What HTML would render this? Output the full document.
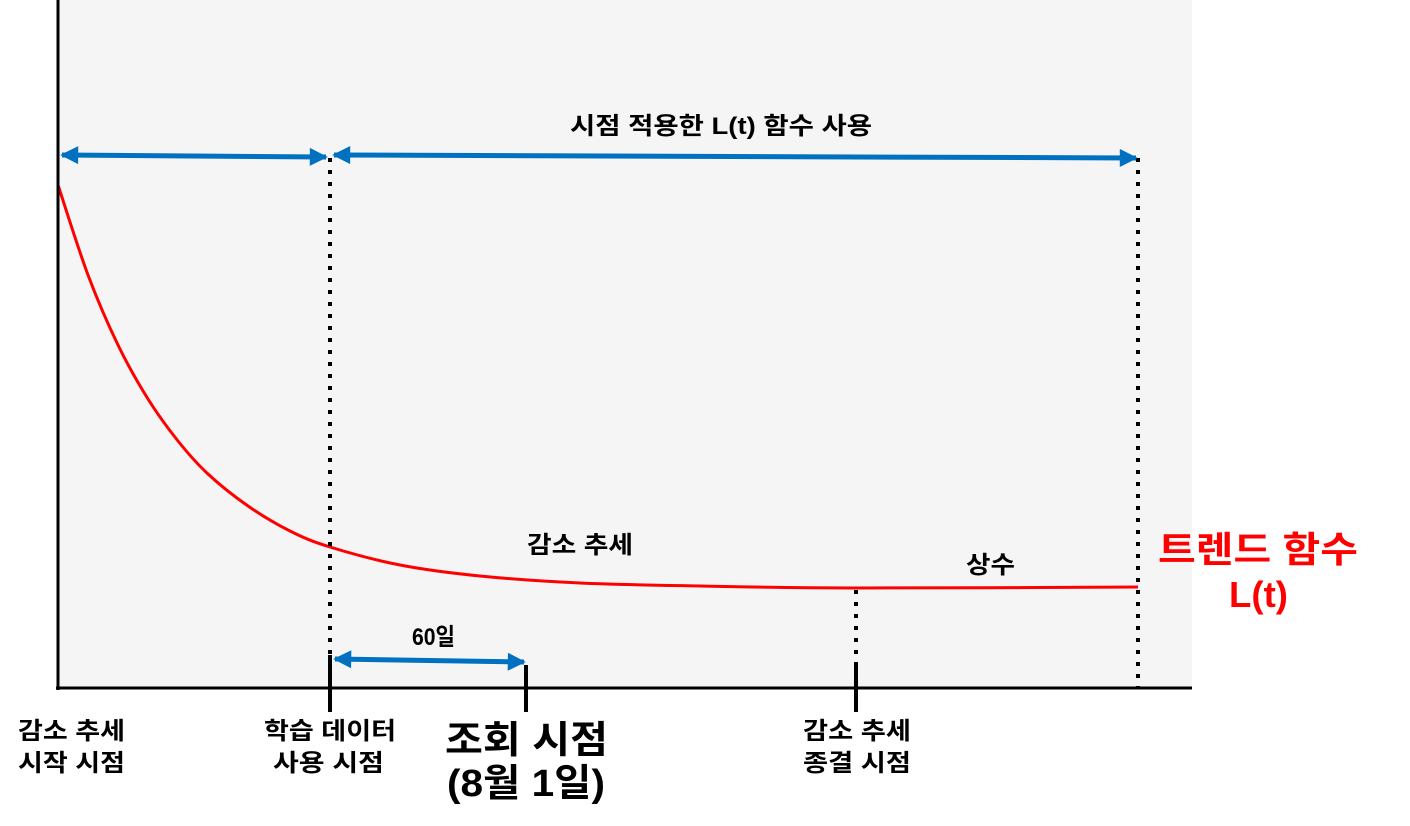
<!DOCTYPE html>
<html><head><meta charset="utf-8"><style>
html,body{margin:0;padding:0;background:#fff;}
svg{display:block;font-family:"Liberation Sans","Noto Sans CJK KR",sans-serif;font-weight:bold;}
</style></head><body>
<svg width="1410" height="826" viewBox="0 0 1410 826">
<defs>
<marker id="ah" viewBox="0 0 10 10" refX="9" refY="5" markerWidth="4.5" markerHeight="3.6" orient="auto-start-reverse" markerUnits="strokeWidth"><path d="M0,0 L10,5 L0,10 z" fill="#0070c0"/></marker>
</defs>
<rect x="58" y="0" width="1134" height="688" fill="#f5f5f5"/>
<g id="marks"></g>
<line x1="58" y1="0" x2="58" y2="690" stroke="#000" stroke-width="3"/>
<line x1="56" y1="688" x2="1192" y2="688" stroke="#000" stroke-width="3"/>
<line x1="330" y1="655" x2="330" y2="712" stroke="#000" stroke-width="4"/>
<line x1="526" y1="665" x2="526" y2="712" stroke="#000" stroke-width="4"/>
<line x1="856" y1="662" x2="856" y2="712" stroke="#000" stroke-width="4"/>
<line x1="330" y1="158" x2="330" y2="660" stroke="#000" stroke-width="4" stroke-dasharray="4,8"/>
<line x1="1138" y1="158" x2="1138" y2="688" stroke="#000" stroke-width="4" stroke-dasharray="4,8"/>
<line x1="856" y1="590" x2="856" y2="662" stroke="#000" stroke-width="4" stroke-dasharray="4,8"/>
<line x1="62" y1="155" x2="326" y2="157" stroke="#0070c0" stroke-width="5" marker-start="url(#ah)" marker-end="url(#ah)"/>
<line x1="334" y1="155" x2="1136" y2="158" stroke="#0070c0" stroke-width="5" marker-start="url(#ah)" marker-end="url(#ah)"/>
<line x1="335" y1="659" x2="524" y2="662" stroke="#0070c0" stroke-width="5" marker-start="url(#ah)" marker-end="url(#ah)"/>
<g font-size="24" fill="#000">
<text x="570" y="134" textLength="302" lengthAdjust="spacingAndGlyphs">시점 적용한 L(t) 함수 사용</text>
<text x="527" y="553" textLength="106" lengthAdjust="spacingAndGlyphs">감소 추세</text>
<text x="966" y="573" textLength="49" lengthAdjust="spacingAndGlyphs">상수</text>
<text x="412" y="645" textLength="43" lengthAdjust="spacingAndGlyphs">60일</text>
<text x="18" y="739" textLength="107" lengthAdjust="spacingAndGlyphs">감소 추세</text>
<text x="18" y="771" textLength="107" lengthAdjust="spacingAndGlyphs">시작 시점</text>
<text x="264" y="739" textLength="132" lengthAdjust="spacingAndGlyphs">학습 데이터</text>
<text x="273" y="771" textLength="111" lengthAdjust="spacingAndGlyphs">사용 시점</text>
<text x="803" y="739" textLength="108" lengthAdjust="spacingAndGlyphs">감소 추세</text>
<text x="803" y="771" textLength="108" lengthAdjust="spacingAndGlyphs">종결 시점</text>
</g>
<text x="445" y="753" font-size="38" textLength="163" lengthAdjust="spacingAndGlyphs" fill="#000">조회 시점</text>
<text x="447" y="796" font-size="38" textLength="158" lengthAdjust="spacingAndGlyphs" fill="#000">(8월 1일)</text>
<text x="1158" y="562" font-size="36" textLength="200" lengthAdjust="spacingAndGlyphs" fill="#ff0000">트렌드 함수</text>
<text x="1229" y="607" font-size="36" textLength="59" lengthAdjust="spacingAndGlyphs" fill="#ff0000">L(t)</text>
</svg>
<script>
const tValues=[1,31,61,91,121,151,191,233,273,343,423,523,643,798,1081];
const lValues=[100.6,82.6,68.6,57.8,49.4,42.8,36.4,31.4,28.2,24.6,22.4,21,20.4,20,20.2];
const xS=t=>57+t;
const yS=v=>688-v*5;
const pts=tValues.map((t,i)=>[xS(t),yS(lValues[i])]);
let d='M'+pts[0][0]+','+pts[0][1];
for(let i=0;i<pts.length-1;i++){
  const p0=pts[Math.max(0,i-1)],p1=pts[i],p2=pts[i+1],p3=pts[Math.min(pts.length-1,i+2)];
  const c1x=p1[0]+(p2[0]-p0[0])/6,c1y=p1[1]+(p2[1]-p0[1])/6;
  const c2x=p2[0]-(p3[0]-p1[0])/6,c2y=p2[1]-(p3[1]-p1[1])/6;
  d+=' C'+c1x+','+c1y+' '+c2x+','+c2y+' '+p2[0]+','+p2[1];
}
const path=document.createElementNS('http://www.w3.org/2000/svg','path');
path.setAttribute('d',d);
path.setAttribute('fill','none');
path.setAttribute('stroke','#ff0000');
path.setAttribute('stroke-width','3');


document.getElementById('marks').appendChild(path);
</script>
</body></html>
